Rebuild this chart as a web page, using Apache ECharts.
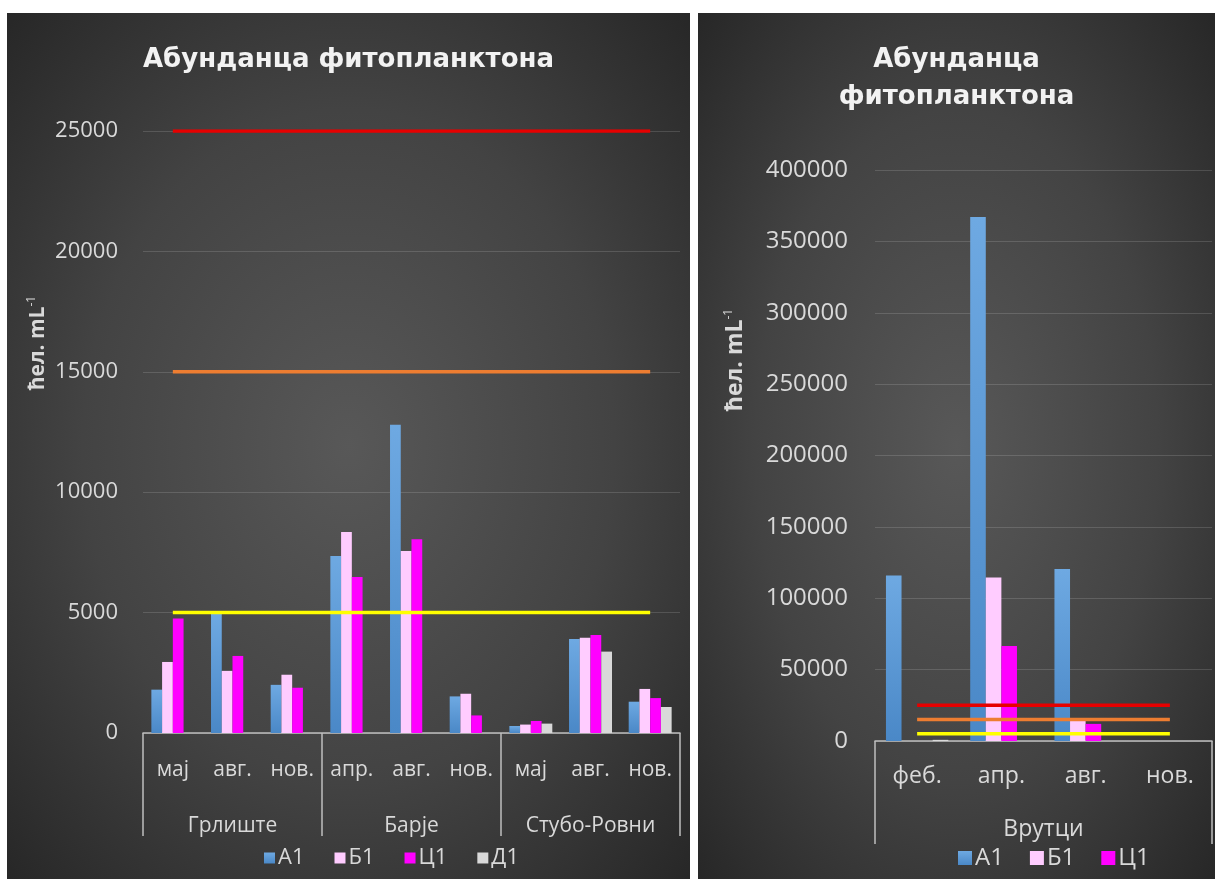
<!DOCTYPE html>
<html>
<head>
<meta charset="utf-8">
<script src="https://cdn.jsdelivr.net/npm/echarts@6.0.0/dist/echarts.min.js"></script>
<style>
body { margin: 0; background: #fff; width: 1215px; height: 879px; overflow: hidden; position: relative; }
.panel {
  position: absolute; top: 13px; height: 866px;
  background: radial-gradient(ellipse at 50% 50%, #585858 0%, #434343 55%, #272727 100%);
}
#left { left: 7px; width: 683px; }
#right { left: 698px; width: 517px; }
</style>
</head>
<body>
<div id="left" class="panel"></div>
<div id="right" class="panel"></div>
<script>
// left chart: three sites, months inside each site
var sites = ['Грлиште', 'Барје', 'Стубо-Ровни'];
var months = ['мај', 'авг.', 'нов.', 'апр.', 'авг.', 'нов.', 'мај', 'авг.', 'нов.'];
var a1 = [1800, 4950, 2000, 7350, 12800, 1520, 290, 3900, 1300];
var b1 = [2950, 2580, 2420, 8350, 7560, 1630, 350, 3960, 1830];
var c1 = [4750, 3200, 1880, 6480, 8050, 730, 500, 4070, 1450];
var d1 = [0, 0, 0, 0, 0, 0, 390, 3380, 1080];
var redLine = [25000, 25000, 25000, 25000, 25000, 25000, 25000, 25000, 25000];
var orangeLine = [15000, 15000, 15000, 15000, 15000, 15000, 15000, 15000, 15000];
var yellowLine = [5000, 5000, 5000, 5000, 5000, 5000, 5000, 5000, 5000];
var yTicksLeft = { min: 0, max: 25000, interval: 5000 };

// right chart: Врутци
var sitesR = ['Врутци'];
var monthsR = ['феб.', 'апр.', 'авг.', 'нов.'];
var a1R = [116000, 367000, 120500, 0];
var b1R = [0, 114500, 14000, 0];
var c1R = [0, 66500, 12000, 0];
var d1R = [800, 0, 0, 0];
var redLineR = [25000, 25000, 25000, 25000];
var orangeLineR = [15000, 15000, 15000, 15000];
var yellowLineR = [5000, 5000, 5000, 5000];
var yTicksRight = { min: 0, max: 400000, interval: 50000 };

var txt = '#d9d9d9';
var axisGrey = '#bfbfbf';

function barSeries(name, data, color, gap) {
  return {
    name: name, type: 'bar', data: data,
    xAxisIndex: 0, barGap: '0%', barCategoryGap: gap,
    itemStyle: { color: color },
    emphasis: { disabled: true }
  };
}
function limitSeries(name, data, color) {
  return {
    name: name, type: 'line', data: data, symbol: 'none',
    lineStyle: { color: color, width: 3.5 },
    emphasis: { disabled: true }, z: 5
  };
}

function buildOption(c) {
  var blue = new echarts.graphic.LinearGradient(0, 0, 0, 1, [
    { offset: 0, color: '#6ea9e2' },
    { offset: 1, color: '#4a88c7' }
  ]);
  return {
    animation: false,
    title: {
      text: c.title, left: 'center', top: c.titleTop,
      textStyle: { color: '#f2f2f2', fontFamily: 'DejaVu Sans', fontWeight: 'bold',
        fontSize: c.titleSize, lineHeight: c.titleLineHeight }
    },
    legend: {
      data: c.legendNames, left: c.legendLeft, top: c.legendTop, padding: 0,
      icon: 'rect', itemWidth: c.iconSize, itemHeight: c.iconSize, itemGap: c.legendGap,
      textStyle: { color: txt, fontSize: c.fontSize + 1, fontFamily: 'Open Sans', padding: [0, 0, 0, -2] }
    },
    grid: {
      left: c.grid[0], right: c.grid[1], top: c.grid[2], bottom: c.grid[3],
      containLabel: false, outerBoundsMode: 'none'
    },
    xAxis: [
      {
        type: 'category', data: c.months, position: 'bottom',
        axisLine: { show: true, lineStyle: { color: axisGrey, width: 1.5 } },
        axisTick: { show: false },
        axisLabel: { color: txt, fontSize: c.fontSize, fontFamily: 'Open Sans', margin: c.monthMargin, interval: 0 }
      },
      {
        type: 'category', data: c.sites, position: 'bottom',
        axisLine: { show: false },
        axisTick: { show: true, length: c.tickLength, lineStyle: { color: axisGrey, width: 1.5 } },
        axisLabel: { color: txt, fontSize: c.fontSize, fontFamily: 'Open Sans', margin: c.siteMargin, interval: 0 }
      }
    ],
    yAxis: {
      type: 'value', min: c.yTicks.min, max: c.yTicks.max, interval: c.yTicks.interval,
      axisLine: { show: false }, axisTick: { show: false },
      splitLine: { lineStyle: { color: 'rgba(255,255,255,0.14)', width: 1 } },
      axisLabel: {
        color: txt, fontSize: c.fontSize + 1, fontFamily: 'Open Sans', margin: c.yMargin,
        formatter: function (v) { return String(v); }
      }
    },
    graphic: [{
      type: 'text', x: c.yNamePos[0], y: c.yNamePos[1], rotation: Math.PI / 2,
      style: {
        text: '{b|ћел. mL}{s|-1}',
        align: 'center', verticalAlign: 'middle', fill: txt,
        rich: {
          b: { fontSize: c.fontSize, fontWeight: 'bold', fontFamily: 'Open Sans', fill: txt },
          s: { fontSize: 12, fontFamily: 'Open Sans', fill: txt, padding: [0, 0, 12, 0] }
        }
      }
    }],
    series: [
      barSeries('А1', c.a1, blue, c.barGap),
      barSeries('Б1', c.b1, '#ffccff', c.barGap),
      barSeries('Ц1', c.c1, '#ff00ff', c.barGap),
      barSeries('Д1', c.d1, '#d9d9d9', c.barGap),
      limitSeries('limit25000', c.red, '#e60000'),
      limitSeries('limit15000', c.orange, '#ed7d31'),
      limitSeries('limit5000', c.yellow, '#ffff00')
    ]
  };
}

var leftChart = echarts.init(document.getElementById('left'));
leftChart.setOption(buildOption({
  title: 'Абунданца фитопланктона', titleTop: 27, titleSize: 26, titleLineHeight: 30,
  legendNames: ['А1', 'Б1', 'Ц1', 'Д1'], legendLeft: 257, legendTop: 834, iconSize: 11, legendGap: 30,
  grid: [136, 10, 118, 146], fontSize: 21,
  months: months, sites: sites, monthMargin: 27, siteMargin: 83, tickLength: 103, yMargin: 25,
  yTicks: yTicksLeft, yNamePos: [31, 330], barGap: '28%',
  a1: a1, b1: b1, c1: c1, d1: d1, red: redLine, orange: orangeLine, yellow: yellowLine
}));

var rightChart = echarts.init(document.getElementById('right'));
rightChart.setOption(buildOption({
  title: 'Абунданца\nфитопланктона', titleTop: 24, titleSize: 26, titleLineHeight: 37,
  legendNames: ['А1', 'Б1', 'Ц1'], legendLeft: 260, legendTop: 833, iconSize: 14, legendGap: 26,
  grid: [177, 3, 157, 138], fontSize: 23,
  months: monthsR, sites: sitesR, monthMargin: 24, siteMargin: 77, tickLength: 103, yMargin: 27,
  yTicks: yTicksRight, yNamePos: [37, 347], barGap: '26%',
  a1: a1R, b1: b1R, c1: c1R, d1: d1R, red: redLineR, orange: orangeLineR, yellow: yellowLineR
}));
</script>
</body>
</html>
